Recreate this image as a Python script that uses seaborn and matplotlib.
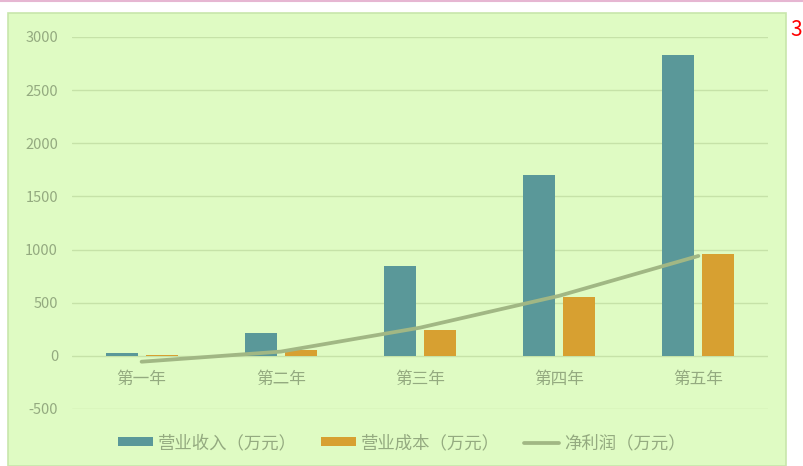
import numpy as np
import pandas as pd
import matplotlib.pyplot as plt
from matplotlib.patches import Rectangle
from matplotlib.lines import Line2D
import seaborn as sns

years = ['第一年', '第二年', '第三年', '第四年', '第五年']
revenue = [30, 215, 850, 1700, 2830]
cost = [12, 55, 245, 550, 955]
profit = [-55, 40, 265, 565, 940]
series_names = ['营业收入（万元）', '营业成本（万元）', '净利润（万元）']

sns.set_theme(style='white')
plt.rcParams['font.family'] = ['Noto Sans CJK SC', 'DejaVu Sans']
plt.rcParams['axes.unicode_minus'] = False

bg = '#dffbc3'
txt = '#94aa80'
grid_c = '#c6e2a8'
col_rev = '#5a9899'
col_cost = '#d7a031'
col_line = '#a1b784'

df = pd.DataFrame({
    'year': years * 2,
    'value': revenue + cost,
    'item': [series_names[0]] * 5 + [series_names[1]] * 5,
})

fig = plt.figure(figsize=(8.04, 4.66), dpi=100, facecolor='white')
# green panel behind the chart
fig.patches.append(Rectangle((8 / 804, 0), 778 / 804, 453 / 466, transform=fig.transFigure,
                             facecolor=bg, edgecolor='#c8e6ac', linewidth=1.2, zorder=-5))
fig.add_artist(Line2D([0, 1], [0.997, 0.997], color='#e6b6d2', linewidth=1.5))
fig.text(0.998, 0.935, '3', color='red', fontsize=15, ha='right', va='center')

ax = fig.add_axes([72 / 804, 57 / 466, 696 / 804, 372 / 466])
ax.set_facecolor(bg)

sns.barplot(data=df, x='year', y='value', hue='item', palette=[col_rev, col_cost],
            saturation=1, width=0.576, gap=0.2, linewidth=0, ax=ax, zorder=3)
sns.lineplot(x=np.arange(len(years)), y=profit, color=col_line, linewidth=2.7, ax=ax,
             zorder=4, label=series_names[2])

ax.set_xlim(-0.5, 4.5)
ax.set_ylim(-500, 3000)
ax.set_yticks(range(-500, 3001, 500))
ax.yaxis.grid(True, color=grid_c, linewidth=1)
ax.set_axisbelow(True)
for s in ax.spines.values():
    s.set_visible(False)
ax.set_xlabel('')
ax.set_ylabel('')
ax.tick_params(axis='y', colors=txt, labelsize=10.5, length=0, pad=10)
ax.tick_params(axis='x', colors=txt, labelsize=12, length=0, pad=11)
# x labels sit just under the zero line
ax.spines['bottom'].set_position(('data', 0))

handles, labels = ax.get_legend_handles_labels()
ax.legend_.remove()
fig.legend(handles, labels, loc='center', bbox_to_anchor=(0.5, 23 / 466), ncol=3,
           frameon=False, fontsize=12.5, labelcolor=txt, handlelength=2.0,
           handleheight=0.45, handletextpad=0.3, columnspacing=1.4)

fig.savefig('out.png', dpi=100, facecolor='white')
